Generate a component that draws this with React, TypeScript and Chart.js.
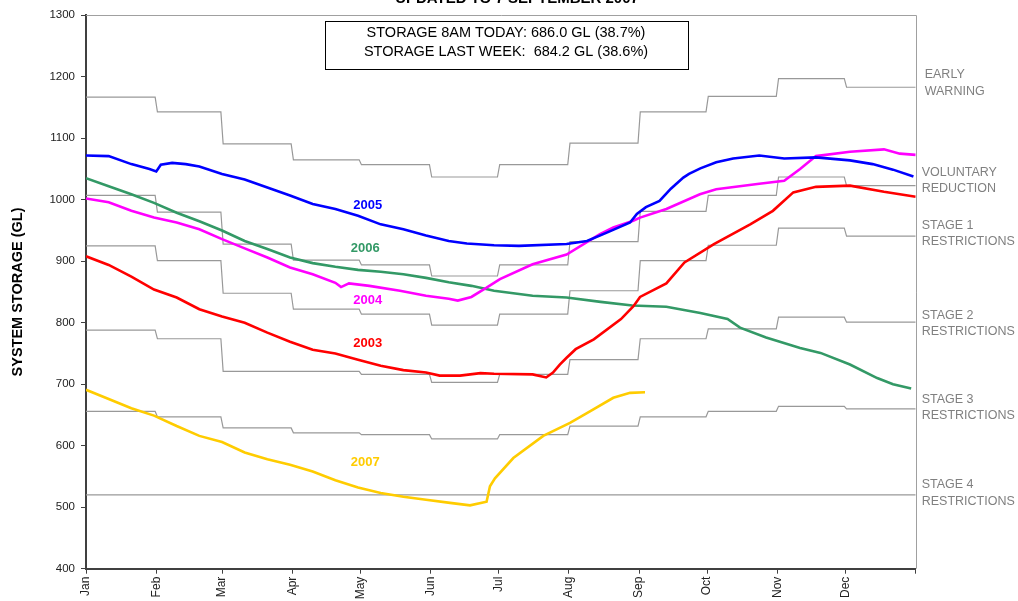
import React, { useEffect, useRef } from 'react';
import { Chart, registerables } from 'chart.js';

Chart.register(...registerables);

const FONT = "'Liberation Sans', Arial, sans-serif";

// x axis: day of (leap) year, ticks at month starts
const monthStartDays = [0, 31, 60, 91, 121, 152, 182, 213, 244, 274, 305, 335, 366];
const monthLabels = ['Jan', 'Feb', 'Mar', 'Apr', 'May', 'Jun', 'Jul', 'Aug', 'Sep', 'Oct', 'Nov', 'Dec', ''];
const yTicks = [400, 500, 600, 700, 800, 900, 1000, 1100, 1200, 1300];

// Operating thresholds (GL), one level per month Jan..Dec
const earlyWarning = [1167, 1143, 1091, 1065, 1057, 1037, 1057, 1092, 1143, 1168, 1197, 1183];
const voluntaryReduction = [1007, 980, 928, 902, 894, 876, 894, 932, 981, 1007, 1037, 1023];
const stage1 = [925, 901, 848, 822, 814, 796, 814, 852, 901, 926, 954, 941];
const stage2 = [788, 774, 721, 721, 716, 703, 716, 740, 774, 790, 809, 801];
const stage3 = [656, 647, 629, 621, 618, 611, 618, 632, 647, 656, 664, 660];
const stage4 = [520, 520, 520, 520, 520, 520, 520, 520, 520, 520, 520, 520];

// Yearly storage traces (day of year, GL)
const days2005 = [0, 10, 20, 28, 31, 33, 38, 44, 50, 60, 70, 80, 90, 100, 110, 120, 130, 140, 150, 160, 168, 180, 191, 212, 221, 230, 240, 243, 247, 253, 258, 263.5, 266, 271, 278, 285.5, 297, 308, 322, 337, 347, 356, 365];
const storage2005 = [1072, 1071, 1058, 1050, 1046, 1057, 1060, 1058, 1054, 1042, 1033, 1020, 1007, 993, 985, 974, 960, 952, 942, 933, 929, 926, 925, 928, 933, 947, 963, 977, 988, 998, 1018, 1036, 1042, 1051, 1061, 1067, 1072, 1067, 1069, 1064, 1058, 1049, 1038];

const days2006 = [0, 10, 20, 30, 40, 50, 60, 70, 80, 90, 100, 110, 120, 130, 140, 150, 160, 170, 180, 197, 212, 227, 241, 256, 271, 283, 288.5, 300, 315, 324, 337, 349, 356, 364];
const storage2006 = [1035, 1022, 1009, 995, 979, 965, 950, 933, 920, 906, 897, 891, 886, 883, 879, 873, 866, 860, 852, 844, 841, 834, 828, 826, 816, 806, 792, 776, 759, 751, 732, 710, 700, 693];

const days2004 = [0, 10, 20, 30, 40, 50, 60, 70, 80, 90, 100, 110, 112.5, 116, 125, 138.5, 150, 160, 164, 170, 176.7, 182.6, 197, 212, 226.7, 232.6, 241.4, 244.4, 256, 270.8, 278, 297, 308, 315, 322, 337, 352, 359, 366];
const storage2004 = [1002, 996, 982, 971, 963, 952, 936, 921, 906, 890, 879, 865, 858, 864, 860, 852, 844, 839, 836, 842, 857, 871, 895, 911, 944, 955, 966, 971, 985, 1009, 1017, 1026, 1031, 1050, 1071, 1078, 1082, 1075, 1073];

const days2003 = [0, 10, 20, 30, 40, 50, 60, 70, 80, 90, 100, 110, 120, 130, 140, 150, 156, 165, 174, 180, 197, 203, 206, 209, 212, 216, 224, 236, 241.5, 244.4, 256, 264, 277, 293, 303, 312, 322, 337, 352, 366];
const storage2003 = [908, 894, 875, 854, 841, 822, 810, 800, 784, 769, 756, 750, 740, 730, 723, 719, 714, 714, 718, 717, 716, 711, 719, 732, 743, 757, 773, 806, 827, 842, 864, 898, 928, 960, 982, 1012, 1021, 1023, 1013, 1005];

const days2007 = [0, 10, 20, 30, 40, 50, 60, 70, 80, 90, 100, 110, 120, 130, 140, 150, 160.6, 169.4, 176.7, 178.2, 180.4, 188.5, 201.7, 213.5, 222.3, 232.6, 240, 246.6];
const storage2007 = [691, 676, 661, 649, 632, 616, 606, 589, 578, 569, 558, 544, 532, 523, 517, 512, 507, 503, 509, 534, 547, 580, 616, 637, 656, 678, 686, 687];

const seriesLabels = [
  { text: '2005', day: 124.3, value: 991, color: '#0000ff' },
  { text: '2006', day: 123.2, value: 921, color: '#339966' },
  { text: '2004', day: 124.3, value: 837, color: '#ff00ff' },
  { text: '2003', day: 124.3, value: 766, color: '#ff0000' },
  { text: '2007', day: 123.2, value: 573, color: '#ffcc00' },
];

const thresholdLabels = [
  ['EARLY', 'WARNING'],
  ['VOLUNTARY', 'REDUCTION'],
  ['STAGE 1', 'RESTRICTIONS'],
  ['STAGE 2', 'RESTRICTIONS'],
  ['STAGE 3', 'RESTRICTIONS'],
  ['STAGE 4', 'RESTRICTIONS'],
];
const thresholdLabelValues = [1190, 1031, 945, 799, 662, 523];

const infoLines = ['STORAGE 8AM TODAY: 686.0 GL (38.7%)', 'STORAGE LAST WEEK:  684.2 GL (38.6%)'];
const titleText = 'UPDATED TO 7 SEPTEMBER 2007';

function zip(xs: number[], ys: number[]) {
  return xs.map((x, i) => ({ x, y: ys[i] }));
}

function stepPoints(levels: number[]) {
  const pts: { x: number; y: number }[] = [];
  levels.forEach((v, i) => {
    const start = monthStartDays[i];
    const end = monthStartDays[i + 1];
    pts.push({ x: i === 0 ? start : start + 0.5, y: v });
    pts.push({ x: i === levels.length - 1 ? end : end - 0.5, y: v });
  });
  return pts;
}

const overlayPlugin = {
  id: 'overlay',
  afterDraw(chart: any) {
    const { ctx, chartArea, scales } = chart;
    const xs = scales.x;
    const ys = scales.y;
    ctx.save();
    // frame top/right
    ctx.strokeStyle = '#a0a0a0';
    ctx.lineWidth = 1;
    ctx.beginPath();
    ctx.moveTo(chartArea.left, Math.round(chartArea.top) + 0.5);
    ctx.lineTo(Math.round(chartArea.right) + 0.5, Math.round(chartArea.top) + 0.5);
    ctx.lineTo(Math.round(chartArea.right) + 0.5, chartArea.bottom);
    ctx.stroke();

    // partial title at very top (cut by the image edge)
    ctx.fillStyle = '#000';
    ctx.font = `bold 15px ${FONT}`;
    ctx.textAlign = 'center';
    ctx.textBaseline = 'alphabetic';
    ctx.fillText(titleText, 517, 3);

    // info box
    ctx.fillStyle = '#ffffff';
    ctx.fillRect(325, 21, 363, 48);
    ctx.strokeStyle = '#000';
    ctx.lineWidth = 1;
    ctx.strokeRect(325.5, 21.5, 363, 48);
    ctx.fillStyle = '#000';
    ctx.font = `14.5px ${FONT}`;
    ctx.textBaseline = 'middle';
    ctx.textAlign = 'center';
    ctx.fillText(infoLines[0], 506, 33);
    ctx.fillText(infoLines[1], 506, 52);

    // series labels
    ctx.font = `bold 13px ${FONT}`;
    seriesLabels.forEach((l) => {
      ctx.fillStyle = l.color;
      ctx.fillText(l.text, xs.getPixelForValue(l.day), ys.getPixelForValue(l.value));
    });

    // threshold labels on the right
    ctx.fillStyle = '#808080';
    ctx.font = `12.5px ${FONT}`;
    ctx.textAlign = 'left';
    thresholdLabels.forEach((lines, i) => {
      const cy = ys.getPixelForValue(thresholdLabelValues[i]);
      const x = i === 0 ? chartArea.right + 9 : chartArea.right + 6;
      ctx.fillText(lines[0], x, cy - 8.3);
      ctx.fillText(lines[1], x, cy + 8.3);
    });

    // y axis title
    ctx.fillStyle = '#000';
    ctx.font = `bold 14.5px ${FONT}`;
    ctx.translate(18, (chartArea.top + chartArea.bottom) / 2);
    ctx.rotate(-Math.PI / 2);
    ctx.textAlign = 'center';
    ctx.textBaseline = 'middle';
    ctx.fillText('SYSTEM STORAGE (GL)', 0, 0);
    ctx.restore();
  },
};

export default function App() {
  const ref = useRef<HTMLCanvasElement>(null);
  useEffect(() => {
    document.body.style.margin = '0';
    const canvas = ref.current;
    if (!canvas) return;
    const seriesStyle = (label: string, data: any, color: string) => ({
      label,
      data,
      borderColor: color,
      borderWidth: 2.6,
      pointRadius: 0,
      tension: 0,
      fill: false,
    });
    const thresholdStyle = (label: string, levels: number[]) => ({
      label,
      data: stepPoints(levels),
      borderColor: '#999999',
      borderWidth: 1.2,
      pointRadius: 0,
      tension: 0,
      fill: false,
    });
    const chart = new Chart(canvas, {
      type: 'line',
      data: {
        datasets: [
          seriesStyle('2007', zip(days2007, storage2007), '#ffcc00'),
          seriesStyle('2005', zip(days2005, storage2005), '#0000ff'),
          seriesStyle('2004', zip(days2004, storage2004), '#ff00ff'),
          seriesStyle('2003', zip(days2003, storage2003), '#ff0000'),
          seriesStyle('2006', zip(days2006, storage2006), '#339966'),
          thresholdStyle('Early warning', earlyWarning),
          thresholdStyle('Voluntary reduction', voluntaryReduction),
          thresholdStyle('Stage 1', stage1),
          thresholdStyle('Stage 2', stage2),
          thresholdStyle('Stage 3', stage3),
          thresholdStyle('Stage 4', stage4),
        ] as any,
      },
      options: {
        animation: false,
        responsive: true,
        maintainAspectRatio: false,
        layout: { padding: { left: 0, right: 102.3, top: 15.3, bottom: 0 } },
        plugins: { legend: { display: false }, tooltip: { enabled: false }, title: { display: false } },
        scales: {
          x: {
            type: 'linear',
            min: 0,
            max: 366,
            afterBuildTicks: (s: any) => {
              s.ticks = monthStartDays.map((v) => ({ value: v }));
            },
            afterFit: (s: any) => {
              s.height = 32.3;
            },
            ticks: {
              autoSkip: false,
              minRotation: 90,
              maxRotation: 90,
              padding: 3,
              color: '#222',
              font: { family: FONT, size: 12 },
              callback: (_v: any, i: number) => monthLabels[i],
            },
            grid: { drawOnChartArea: false, drawTicks: true, tickLength: 5, color: '#404040', lineWidth: 1 },
            border: { color: '#404040', width: 2 },
          },
          y: {
            type: 'linear',
            min: 400,
            max: 1300,
            afterBuildTicks: (s: any) => {
              s.ticks = yTicks.map((v) => ({ value: v }));
            },
            afterFit: (s: any) => {
              s.width = 86;
            },
            ticks: {
              padding: 6,
              color: '#222',
              font: { family: FONT, size: 11.5 },
              callback: (v: any) => String(v),
            },
            grid: { drawOnChartArea: false, drawTicks: true, tickLength: 5, color: '#404040', lineWidth: 1 },
            border: { color: '#404040', width: 2 },
          },
        },
      } as any,
      plugins: [overlayPlugin],
    });
    return () => chart.destroy();
  }, []);
  return (
    <div style={{ position: 'absolute', left: 0, top: 0, width: 1018, height: 601 }}>
      <canvas ref={ref} />
    </div>
  );
}
